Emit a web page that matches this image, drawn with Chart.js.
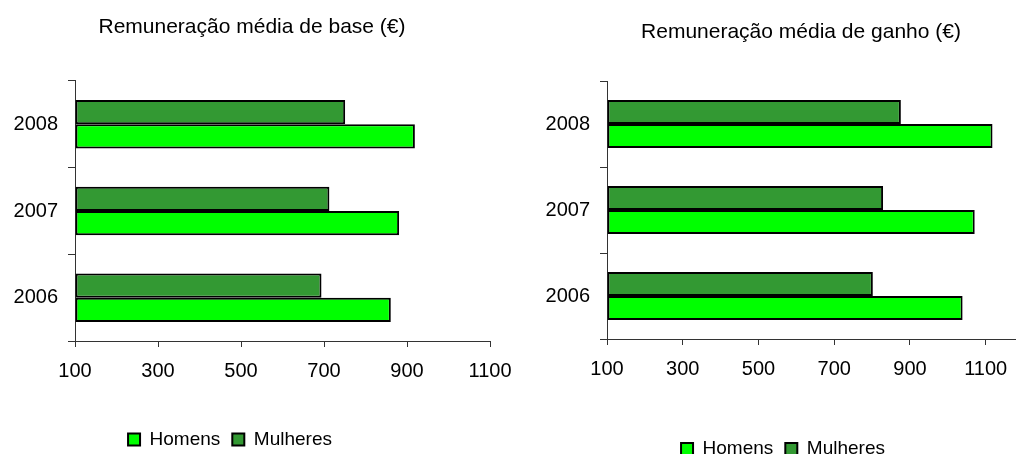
<!DOCTYPE html>
<html>
<head>
    <meta charset="utf-8">
    <script src="https://cdn.jsdelivr.net/npm/chart.js@4.4.1/dist/chart.umd.min.js"></script>
    <style>
        body { margin: 0; background: #fff; }
        #wrap { position: relative; width: 1016px; height: 454px; overflow: hidden; }
        canvas { position: absolute; top: 0; }
        #chartBase { left: 0; }
        #chartGanho { left: 508px; }
    </style>
</head>
<body>
    <div id="wrap">
        <canvas id="chartBase" width="520" height="454"></canvas>
        <canvas id="chartGanho" width="508" height="454"></canvas>
    </div>
    <script>
        const years = ['2008', '2007', '2006'];
        const baseHomens = [919, 881, 861];
        const baseMulheres = [751, 713, 694];
        const ganhoHomens = [1118, 1071, 1039];
        const ganhoMulheres = [876, 829, 802];
        const xTicks = [100, 300, 500, 700, 900, 1100];

        const corHomens = '#00FF00';
        const corMulheres = '#339933';
        const axisColor = '#333333';
        const fontFamily = 'Liberation Sans, Arial, sans-serif';

        // moves title / legend after layout so they sit where the original has them
        const shiftPlugin = {
            id: 'shift',
            afterLayout(chart, args, opts) {
                const t = chart.titleBlock, l = chart.legend;
                if (t) { t.left += opts.titleDx; t.right += opts.titleDx; }
                if (l) {
                    l.left += opts.legendDx; l.right += opts.legendDx;
                    l.top += opts.legendDy; l.bottom += opts.legendDy;
                }
            }
        };

        function makeChart(id, title, homens, mulheres, c) {
            const ctx = document.getElementById(id).getContext('2d');
            return new Chart(ctx, {
                type: 'bar',
                data: {
                    labels: years,
                    datasets: [
                        { label: 'Mulheres', data: mulheres, backgroundColor: corMulheres },
                        { label: 'Homens', data: homens, backgroundColor: corHomens }
                    ]
                },
                options: {
                    indexAxis: 'y',
                    responsive: false,
                    animation: false,
                    layout: { padding: { left: 0, right: c.padRight, top: 0, bottom: 0 } },
                    datasets: {
                        bar: {
                            base: 100,
                            borderColor: '#000',
                            borderWidth: 2,
                            borderSkipped: false,
                            categoryPercentage: 0.56,
                            barPercentage: 1
                        }
                    },
                    scales: {
                        x: {
                            type: 'linear',
                            min: 100,
                            max: c.xMax,
                            afterBuildTicks: s => { s.ticks = xTicks.map(v => ({ value: v })); },
                            afterFit: s => { s.height = c.xHeight; s.paddingLeft = 0; s.paddingRight = 0; },
                            grid: { drawOnChartArea: false, drawTicks: true, tickLength: 6, color: axisColor },
                            border: { display: true, color: axisColor, width: 1 },
                            ticks: {
                                color: '#000', padding: 12, maxRotation: 0,
                                callback: v => String(v),
                                font: { family: fontFamily, size: 20 }
                            }
                        },
                        y: {
                            afterFit: s => { s.width = c.yWidth; },
                            grid: { drawOnChartArea: false, drawTicks: true, tickLength: 7, color: axisColor, offset: true },
                            border: { display: true, color: axisColor, width: 1 },
                            ticks: {
                                color: '#000', padding: 10,
                                font: { family: fontFamily, size: 20 }
                            }
                        }
                    },
                    plugins: {
                        tooltip: { enabled: false },
                        title: {
                            display: true,
                            text: title,
                            color: '#000',
                            font: { family: fontFamily, size: 21, weight: 'normal', lineHeight: 1.2 },
                            padding: { top: c.titleTop, bottom: 81 - c.titleTop - 25.2 }
                        },
                        legend: {
                            position: 'bottom',
                            reverse: true,
                            labels: {
                                boxWidth: 12,
                                boxHeight: 12,
                                padding: 12,
                                color: '#000',
                                font: { family: fontFamily, size: 19 }
                            }
                        },
                        shift: { titleDx: c.titleDx, legendDx: c.legendDx, legendDy: c.legendDy }
                    }
                },
                plugins: [shiftPlugin]
            });
        }

        makeChart('chartBase', 'Remuneração média de base (€)', baseHomens, baseMulheres, {
            padRight: 30, xMax: 1100, xHeight: 72, yWidth: 75,
            titleTop: 14.4, titleDx: 7, legendDx: -15, legendDy: 5
        });

        makeChart('chartGanho', 'Remuneração média de ganho (€)', ganhoHomens, ganhoMulheres, {
            padRight: 0, xMax: 1180, xHeight: 74, yWidth: 99,
            titleTop: 19.4, titleDx: 39, legendDx: 21, legendDy: 14.5
        });
    </script>
</body>
</html>
